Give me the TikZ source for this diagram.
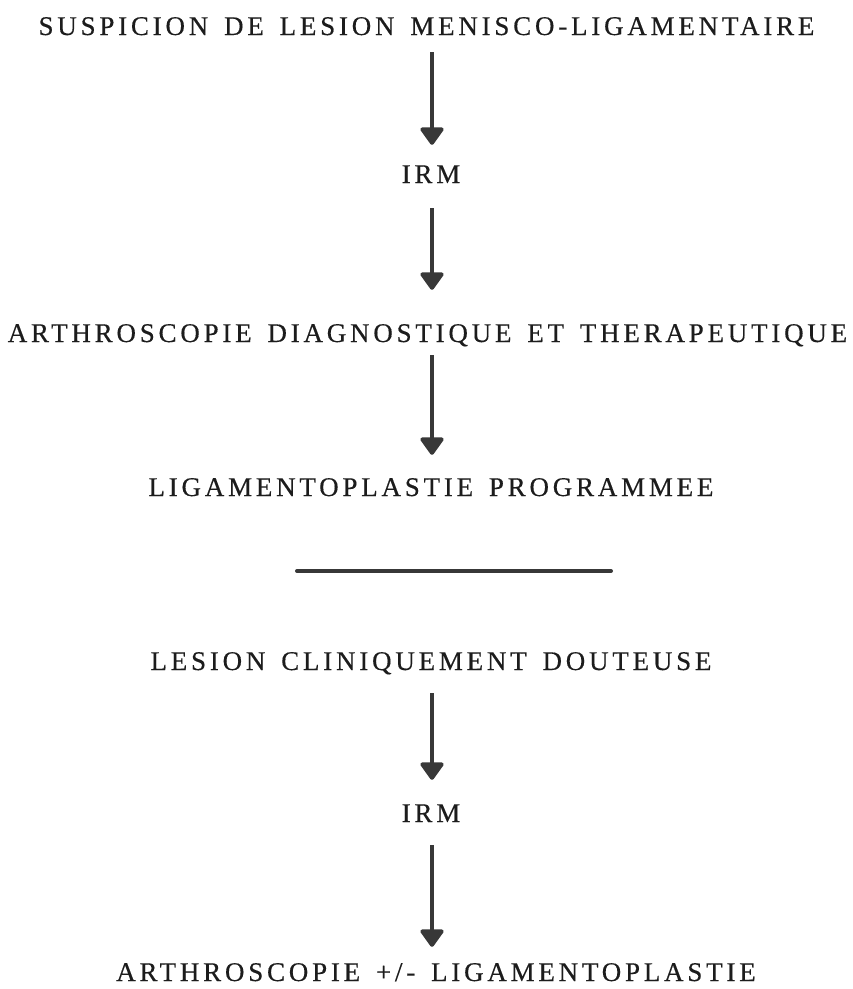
\documentclass[tikz,border=0pt]{standalone}
\usepackage{fontspec}
\setmainfont[LetterSpace=14, WordSpace=1.5, FakeBold=0.4]{Liberation Serif}
\usetikzlibrary{arrows.meta}
\definecolor{ink}{HTML}{1C1C1C}
\definecolor{arrowgray}{HTML}{383838}
\begin{document}
\begin{tikzpicture}[x=1pt,y=-1pt,
  label/.style={inner sep=0pt, anchor=base, text height=17pt, text depth=0pt,
    font=\fontsize{27}{30}\selectfont, text=ink},
  flow/.style={draw=arrowgray, line width=4pt,
    -{Triangle[width=26pt,length=19pt,round]}}]
\useasboundingbox (0,0) rectangle (853,989);
\coordinate (ax) at (432,0);
% first pathway
\node[label] (susp) at (426.5,35) {SUSPICION DE LESION MENISCO-LIGAMENTAIRE};
\node[label] (irm1) at (431,183) {IRM};
\node[label] (arthro) at (427.5,342) {ARTHROSCOPIE DIAGNOSTIQUE ET THERAPEUTIQUE};
\node[label] (ligprog) at (431,496) {LIGAMENTOPLASTIE PROGRAMMEE};
% separator
\coordinate (sepL) at (297,571);
\coordinate (sepR) at (611,571);
\draw[arrowgray, line width=4pt, line cap=round] (sepL) -- (sepR);
% second pathway
\node[label] (doute) at (431,670) {LESION CLINIQUEMENT DOUTEUSE};
\node[label] (irm2) at (431,822) {IRM};
\node[label] (arthlig) at (436,981) {ARTHROSCOPIE +/- LIGAMENTOPLASTIE};
% connectors
\draw[flow, shorten <=17pt, shorten >=21pt] (susp.south -| ax) -- (irm1.north -| ax);
\draw[flow, shorten <=25pt, shorten >=35pt] (irm1.south -| ax) -- (arthro.north -| ax);
\draw[flow, shorten <=13pt, shorten >=24pt] (arthro.south -| ax) -- (ligprog.north -| ax);
\draw[flow, shorten <=23pt, shorten >=25pt] (doute.south -| ax) -- (irm2.north -| ax);
\draw[flow, shorten <=23pt, shorten >=17pt] (irm2.south -| ax) -- (arthlig.north -| ax);
\end{tikzpicture}
\end{document}
